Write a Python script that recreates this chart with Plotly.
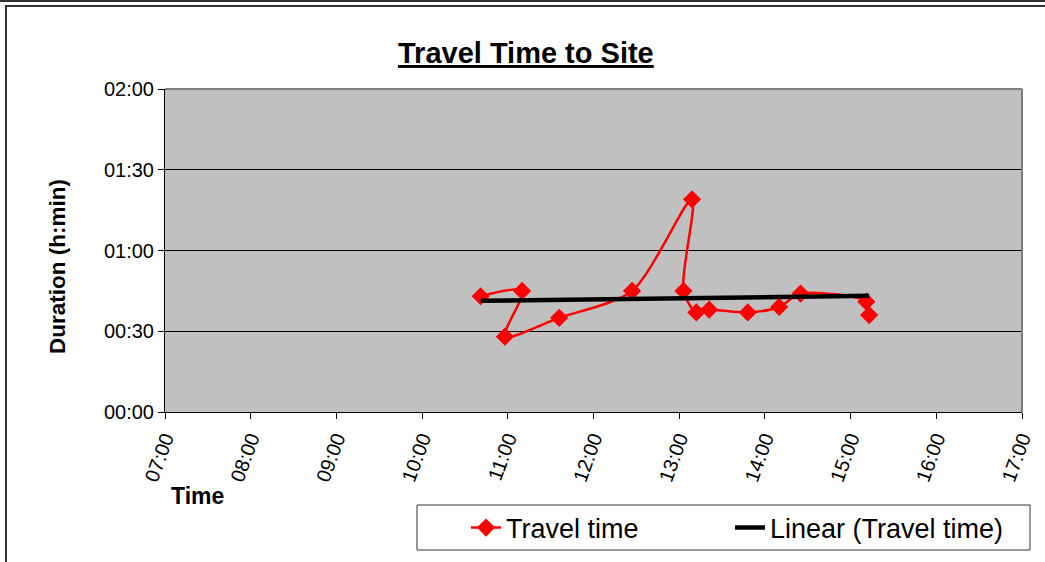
import numpy as np
import pandas as pd
import plotly.graph_objects as go

# Data
times = ["10:41", "11:10", "10:58", "11:36", "12:27", "13:09", "13:03",
         "13:12", "13:21", "13:48", "14:10", "14:25", "15:11", "15:13"]
durations_min = [43, 45, 28, 35, 45, 79, 45, 37, 38, 37, 39, 44, 41, 36]
x_ticks = ["07:00", "08:00", "09:00", "10:00", "11:00", "12:00",
           "13:00", "14:00", "15:00", "16:00", "17:00"]
y_ticks = ["00:00", "00:30", "01:00", "01:30", "02:00"]

base = pd.Timestamp("1970-01-01")
x = pd.to_datetime(["1970-01-01 " + t for t in times])
y = base + pd.to_timedelta(durations_min, unit="m")

# Linear trend (computed from data)
hours = np.array([(t - base).total_seconds() / 3600 for t in x])
slope, intercept = np.polyfit(hours, np.array(durations_min, float), 1)
tx_h = np.array([hours.min(), hours.max()])
ty_m = slope * tx_h + intercept
tx = base + pd.to_timedelta(tx_h, unit="h")
ty = base + pd.to_timedelta(ty_m, unit="m")

W, H = 1045, 562
# target plot area in window pixels: x 165..1022, y 89..412
PL, PR, PT, PB = 165, 1022, 89, 412
L, T = PL, PT
R = W - PR
B = H - PB
pw, ph = PR - PL, PB - PT


def px(v):
    return (v - PL) / pw


def py(v):
    return (PB - v) / ph


NB = "\u00a0"

fig = go.Figure()
fig.add_trace(go.Scatter(
    x=x, y=y, mode="lines+markers", name="Travel time" + NB * 5,
    line=dict(color="#FF0000", width=2.5, shape="spline", smoothing=0.8),
    marker=dict(symbol="diamond", size=14, color="#FF0000"),
))
fig.add_trace(go.Scatter(
    x=tx, y=ty, mode="lines", name="Linear (Travel time)",
    line=dict(color="#000000", width=4.5),
))

font_family = "Liberation Sans, Arial, sans-serif"
fig.update_layout(
    width=W, height=H,
    margin=dict(l=L, r=R, t=T, b=B, autoexpand=False),
    paper_bgcolor="white", plot_bgcolor="#C0C0C0",
    font=dict(family=font_family, color="black"),
    showlegend=True,
    legend=dict(
        orientation="h", x=px(417), xanchor="left", y=py(528), yanchor="middle",
        bgcolor="rgba(0,0,0,0)", borderwidth=0,
        font=dict(size=27, family=font_family),
        indentation=49,
    ),
    xaxis=dict(
        type="date",
        range=[base + pd.Timedelta(hours=7), base + pd.Timedelta(hours=17)],
        tickvals=[pd.Timestamp("1970-01-01 " + t) for t in x_ticks],
        ticktext=x_ticks,
        tickangle=-70, ticks="outside", ticklen=6, tickcolor="black",
        showline=True, linecolor="black", linewidth=1,
        showgrid=False, zeroline=False, automargin=False,
        tickfont=dict(size=20),
    ),
    yaxis=dict(
        type="date",
        range=[base, base + pd.Timedelta(hours=2)],
        tickvals=[pd.Timestamp("1970-01-01 " + t) for t in y_ticks],
        ticktext=y_ticks,
        ticks="outside", ticklen=6, tickcolor="black",
        showline=True, linecolor="black", linewidth=1,
        showgrid=True, gridcolor="#000000", gridwidth=1,
        zeroline=False, automargin=False,
        tickfont=dict(size=20),
    ),
    annotations=[
        dict(text="<b><u>Travel Time to Site</u></b>", x=px(526), y=py(53),
             xref="paper", yref="paper", xanchor="center", yanchor="middle",
             showarrow=False, font=dict(size=29)),
        dict(text="<b>Time</b>", x=px(169), y=py(496),
             xref="paper", yref="paper", xanchor="left", yanchor="middle",
             showarrow=False, font=dict(size=23)),
        dict(text="<b>Duration (h:min)</b>", x=px(57), y=py(267),
             xref="paper", yref="paper", xanchor="center", yanchor="middle",
             textangle=-90, showarrow=False, font=dict(size=22.5)),
    ],
    shapes=[
        # plot area gray border (top & right)
        dict(type="line", xref="paper", yref="paper", x0=0, x1=1, y0=1, y1=1,
             line=dict(color="#808080", width=2)),
        dict(type="line", xref="paper", yref="paper", x0=1, x1=1, y0=0, y1=1,
             line=dict(color="#808080", width=2)),
        # outer frame lines
        dict(type="line", xref="paper", yref="paper", x0=px(-5), x1=px(1060),
             y0=py(1), y1=py(1), line=dict(color="#333333", width=2)),
        dict(type="line", xref="paper", yref="paper", x0=px(5), x1=px(1060),
             y0=py(6), y1=py(6), line=dict(color="#333333", width=2)),
        dict(type="line", xref="paper", yref="paper", x0=px(6), x1=px(6),
             y0=py(6), y1=py(580), line=dict(color="#333333", width=2)),
        # legend box
        dict(type="rect", xref="paper", yref="paper", x0=px(417), x1=px(1030),
             y0=py(550), y1=py(505), fillcolor="white",
             line=dict(color="#333333", width=1), layer="above"),
    ],
)

fig.write_html(
    "out.html",
    config={"displayModeBar": False},
    post_script="document.body.style.margin='0';document.body.style.overflow='hidden';",
)
